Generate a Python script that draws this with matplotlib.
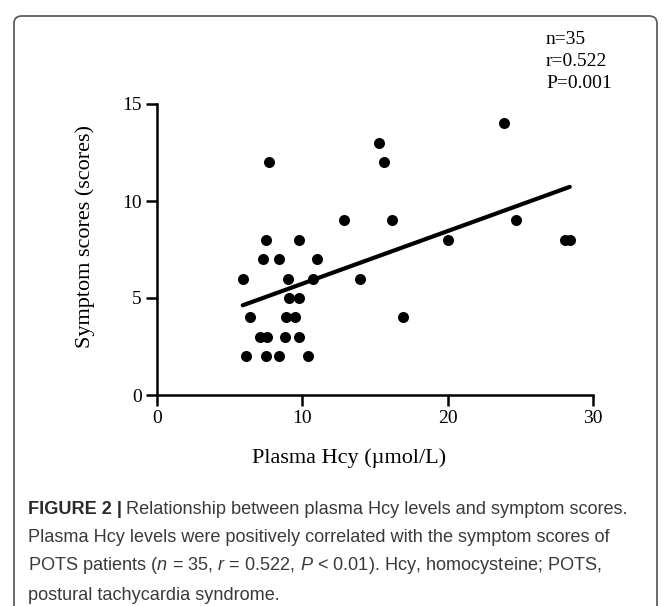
import numpy as np
import matplotlib
matplotlib.use("Agg")
import matplotlib.pyplot as plt
from matplotlib.patches import FancyBboxPatch

# values (Plasma Hcy vs symptom score)
hcy = [7.7, 23.9, 15.3, 15.6, 12.9, 16.2, 24.7,
       7.5, 9.75, 20.0, 28.1, 28.4,
       7.3, 8.4, 11.0,
       5.9, 9.0, 10.7, 14.0,
       9.1, 9.8,
       6.4, 8.9, 9.5, 16.9,
       7.1, 7.6, 8.8, 9.8,
       6.1, 7.5, 8.4, 10.4]
scores = [12, 14, 13, 12, 9, 9, 9,
          8, 8, 8, 8, 8,
          7, 7, 7,
          6, 6, 6, 6,
          5, 5,
          4, 4, 4, 4,
          3, 3, 3, 3,
          2, 2, 2, 2]
x_ticks = [0, 10, 20, 30]
y_ticks = [0, 5, 10, 15]
stats_lines = ["n=35", "r=0.522", "P=0.001"]

W, H = 669, 606
fig = plt.figure(figsize=(W / 100, H / 100), dpi=100)

# rounded frame around figure + caption
frame = FancyBboxPatch((14 / W, -0.05), (657 - 14) / W, (H - 16) / H + 0.05,
                       boxstyle="round,pad=0,rounding_size=0.012",
                       transform=fig.transFigure, facecolor="white",
                       edgecolor="#5e5e5e", linewidth=1.3, zorder=-10)
fig.patches.append(frame)

ax = fig.add_axes([157 / W, 1 - 395 / H, (593 - 157) / W, (395 - 104) / H])
ax.set_facecolor("none")
ax.set_zorder(2)

serif = "Liberation Serif"
ax.scatter(hcy, scores, s=48, color="black", zorder=3, clip_on=False)

# linear fit
k, b = np.polyfit(hcy, scores, 1)
xs = np.array([min(hcy), max(hcy)])
ax.plot(xs, k * xs + b, color="black", lw=3.0, solid_capstyle="round", zorder=2)

ax.set_xlim(0, 30)
ax.set_ylim(0, 15)
ax.set_xticks(x_ticks)
ax.set_yticks(y_ticks)
ax.spines["top"].set_visible(False)
ax.spines["right"].set_visible(False)
for s in ("left", "bottom"):
    ax.spines[s].set_linewidth(1.8)
ax.tick_params(direction="out", length=8, width=1.8, pad=3,
               labelsize=14, labelfontfamily=serif)

fig.text(349 / W, 1 - 458 / H, "Plasma Hcy (\u00b5mol/L)", family=serif,
         fontsize=16, ha="center", va="center")
fig.text(85 / W, 1 - 236 / H, "Symptom scores (scores)", family=serif,
         fontsize=16, ha="center", va="center", rotation=90)

for i, line in enumerate(stats_lines):
    fig.text(546 / W, 1 - (40 + 22 * i) / H, line, family=serif,
             fontsize=14, ha="left", va="center")

# caption
plt.rcParams["mathtext.fontset"] = "custom"
plt.rcParams["mathtext.rm"] = "Liberation Sans"
plt.rcParams["mathtext.it"] = "Liberation Sans:italic"
cap_font = "Liberation Sans"
cap_size = 13.1
cap_color = "#3a3a3a"
x0 = 28 / W
line_y = [509, 538, 566, 595]

bold = fig.text(x0, 1 - line_y[0] / H, "FIGURE 2 |", family=cap_font,
                fontsize=cap_size, fontweight="bold", color="#2a2a2a",
                ha="left", va="center")
renderer = fig.canvas.get_renderer()
bb = bold.get_window_extent(renderer)
fig.text((bb.x1 + 4) / W, 1 - line_y[0] / H,
         "Relationship between plasma Hcy levels and symptom scores.",
         family=cap_font, fontsize=cap_size, color=cap_color,
         ha="left", va="center")
rest = ["Plasma Hcy levels were positively correlated with the symptom scores of",
        r"POTS patients ($n$ = 35, $r$ = 0.522, $P$ < 0.01). Hcy, homocysteine; POTS,",
        "postural tachycardia syndrome."]
for txt, y in zip(rest, line_y[1:]):
    fig.text(x0, 1 - y / H, txt, family=cap_font, fontsize=cap_size,
             color=cap_color, ha="left", va="center")

fig.savefig("out.png", dpi=100)
